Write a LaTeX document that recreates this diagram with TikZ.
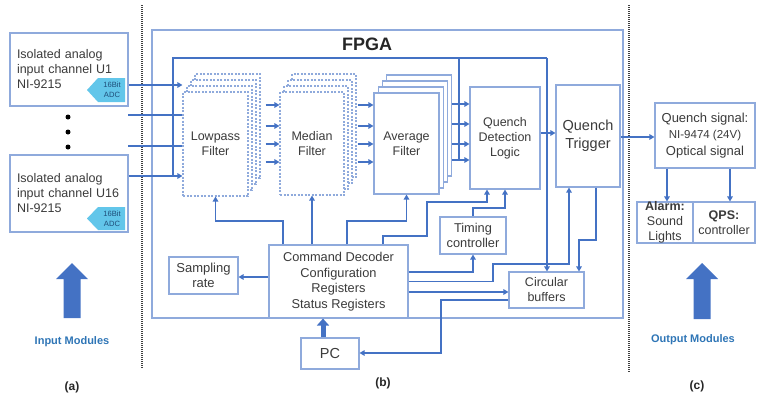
\documentclass[tikz,border=0pt]{standalone}
\usepackage{fontspec}
\setmainfont{Liberation Sans}
\usetikzlibrary{arrows.meta,calc}
\definecolor{lc}{HTML}{4472C4}
\definecolor{bc}{HTML}{8FAADC}
\definecolor{tc}{HTML}{3B3B3B}
\definecolor{mc}{HTML}{2E75B6}
\definecolor{adcc}{HTML}{62C6EA}
\definecolor{adct}{HTML}{1F4E79}
\tikzset{
  box/.style={draw=bc, line width=1.1pt, fill=white, text=tc, align=center, inner sep=0pt,
              font=\fontsize{12.5}{15}\selectfont},
  dbox/.style={box, dash pattern=on 2pt off 1.5pt},
  conn/.style={draw=lc, line width=1.8pt, -{Triangle[length=5pt,width=5.5pt]}},
  wire/.style={draw=lc, line width=1.8pt},
  fatarrow/.style={draw=lc, line width=5pt, -{Triangle[length=7pt,width=12pt]}},
  lbl/.style={text=tc, align=center, inner sep=0pt, font=\fontsize{12.5}{15}\selectfont},
  sepline/.style={draw=black!75, line width=1.3pt, dash pattern=on 1pt off 1pt},
  modlbl/.style={text=mc, font=\bfseries\fontsize{11}{13}\selectfont, inner sep=0pt},
  sublbl/.style={text=black!85, font=\bfseries\fontsize{12}{14}\selectfont, inner sep=0pt},
  bigarrow/.style={fill=lc, draw=none},
  adclbl/.style={text=adct, align=center, inner sep=0pt, font=\fontsize{7.6}{10}\selectfont},
}
\begin{document}
\begin{tikzpicture}[x=1pt,y=-1pt]
\useasboundingbox (0,0) rectangle (757,392);

% separators
\draw[sepline] (142,5) -- (142,368);
\draw[sepline] (629,5) -- (629,372);

% FPGA frame
\node[draw=bc, line width=1.1pt, minimum width=471pt, minimum height=288pt, inner sep=0pt] (fpga) at (387.5,174) {};
\node[text=black!85, font=\bfseries\fontsize{18}{20}\selectfont, inner sep=0pt] (fpgat) at (367,44) {FPGA};

% input modules
\node[box, minimum height=73pt, text width=104pt, inner xsep=7pt, align=left] (u1) at (69,69.5)
  {Isolated analog\\input channel U1\\NI-9215};
\node[box, minimum height=77pt, text width=104pt, inner xsep=7pt, align=left] (u16) at (69,193.5)
  {Isolated analog\\input channel U16\\NI-9215};
\fill[adcc] (125,78) -- (98,78) -- (87,90) -- (98,102) -- (125,102) -- cycle;
\node[adclbl] (adc1) at (112,90) {16Bit\\ADC};
\fill[adcc] (125,207) -- (98,207) -- (87,218.5) -- (98,230) -- (125,230) -- cycle;
\node[adclbl] (adc16) at (112,218.5) {16Bit\\ADC};
\foreach \yy/\nm in {117/d1,132/d2,147/d3} \fill[black] (68,\yy) circle (2.5pt);

% big arrows
\fill[bigarrow] (72,263) -- (88,279) -- (80.5,279) -- (80.5,318) -- (63.5,318) -- (63.5,279) -- (56,279) -- cycle;
\fill[bigarrow] (702,263) -- (718,279) -- (710.5,279) -- (710.5,319) -- (693.5,319) -- (693.5,279) -- (686,279) -- cycle;
\node[modlbl] (inlbl) at (72,342) {Input Modules};
\node[modlbl] (outlbl) at (693,340) {Output Modules};
\node[sublbl] (la) at (72,387) {(a)};
\node[sublbl] (lb) at (383,383) {(b)};
\node[sublbl] (lc) at (697,386) {(c)};

% filter stacks
\foreach \i in {3,2,1} {
  \node[dbox, minimum width=65pt, minimum height=104pt] (lp\i) at (215.5+4*\i,144-6*\i) {};
  \node[dbox, minimum width=64pt, minimum height=103pt] (md\i) at (312+4*\i,143.5-6*\i) {};
  \node[box, minimum width=65pt, minimum height=101pt] (av\i) at (406.5+4.3*\i,143.5-6*\i) {};
}
\node[dbox, minimum width=65pt, minimum height=104pt] (lp) at (215.5,144) {Lowpass\\Filter};
\node[dbox, minimum width=64pt, minimum height=103pt] (md) at (312,143.5) {Median\\Filter};
\node[box, minimum width=65pt, minimum height=101pt] (av) at (406.5,143.5) {Average\\Filter};

% other FPGA boxes
\node[box, minimum width=70pt, minimum height=102pt] (qdl) at (505,138) {Quench\\Detection\\Logic};
\node[box, minimum width=64pt, minimum height=102pt, font=\fontsize{14.5}{18}\selectfont] (qt) at (588,136) {Quench\\Trigger};
\node[box, minimum width=139pt, minimum height=73pt, font=\fontsize{12.8}{15.5}\selectfont] (cd) at (338.5,281.5)
  {Command Decoder\\Configuration\\Registers\\Status Registers};
\node[box, minimum width=69pt, minimum height=37pt, font=\fontsize{13}{14.5}\selectfont] (sr) at (203.5,275.5) {Sampling\\rate};
\node[box, minimum width=66pt, minimum height=37pt, font=\fontsize{12.8}{14.5}\selectfont] (tm) at (473,235.5) {Timing\\controller};
\node[box, minimum width=75pt, minimum height=36pt] (cb) at (546.5,290) {Circular\\buffers};
\node[box, minimum width=58pt, minimum height=31pt, font=\fontsize{14.5}{16}\selectfont] (pc) at (330,353.5) {PC};

% output side
\node[box, minimum width=100pt, minimum height=65pt, font=\fontsize{13}{16.5}\selectfont] (qs) at (705,135.5)
  {Quench signal:\\\fontsize{11.5}{16.5}\selectfont NI-9474 (24V)\\Optical signal};
\node[box, minimum width=56pt, minimum height=41pt] (al) at (665,222.5) {};
\node[lbl] (alt) at (665,222) {\textbf{Alarm:}\\Sound\\Lights};
\node[box, minimum width=62pt, minimum height=41pt] (qps) at (724,222.5) {\textbf{QPS:}\\controller};

% input lines
\coordinate (in2) at (128,115);
\coordinate (in3) at (128,146);
\draw[conn] (u1.east |- 0,85) -- (lp.west |- 0,85);
\draw[wire] (in2) -- (lp.west |- in2);
\draw[wire] (in3) -- (lp.west |- in3);
\draw[conn] (u16.east |- 0,176) -- (lp.west |- 0,176);

% bus
\coordinate (bus0) at (173,176);
\draw[wire] (bus0) -- (173,58) -- (547,58);
\draw[conn] (547,58) -- (cb.north -| 547,0);
\draw[wire] (459,58) -- (459,160);

% filter chain
\foreach \yy in {105,126,144,162} {
  \draw[conn] ($(lp3.east |- 0,\yy)+(5,0)$) -- (md.west |- 0,\yy);
  \draw[conn] ($(md3.east |- 0,\yy)+(1,0)$) -- (av.west |- 0,\yy);
}
\foreach \yy in {104,124,144,160} \draw[conn] (av3.east |- 0,\yy) -- (qdl.west |- 0,\yy);

% command decoder links
\draw[conn] (cd.north -| 283,0) -- (283,221) -| (lp.south);
\draw[conn] (cd.north -| 312,0) -- (md.south);
\draw[conn] (cd.north -| 347,0) -- (347,221) -| (av.south);
\draw[conn] (cd.north -| 383,0) -- (383,236) -- (427,236) -- (427,202) -| (qdl.south -| 487,0);
\draw[conn] (tm.north) -- (473,208) -| (qdl.south);
\draw[conn] (cd.west |- 0,277) -- (sr.east |- 0,277);
\draw[conn] (cd.east |- 0,272) -| (tm.south);
\draw[conn] (cd.east |- 0,281.5) -- (493,281.5) -- (493,264) -| (qt.south -| 569,0);
\draw[conn] (cd.east |- 0,292) -- (cb.west |- 0,292);
\draw[conn] (qt.south -| 596,0) -- (596,240) -- (579,240) -- (cb.north -| 579,0);
\draw[conn] (cb.west |- 0,300) -- (441,300) |- (pc.east |- 0,353);
\draw[fatarrow] (pc.north -| 323,0) -- (cd.south -| 323,0);

% trigger path
\draw[conn] (qdl.east |- 0,133) -- (qt.west |- 0,133);
\draw[conn] (qt.east |- 0,137) -- (qs.west |- 0,137);
\draw[conn] (qs.south -| 667,0) -- (al.north -| 667,0);
\draw[conn] (qs.south -| 730,0) -- (qps.north -| 730,0);
\end{tikzpicture}
\end{document}
